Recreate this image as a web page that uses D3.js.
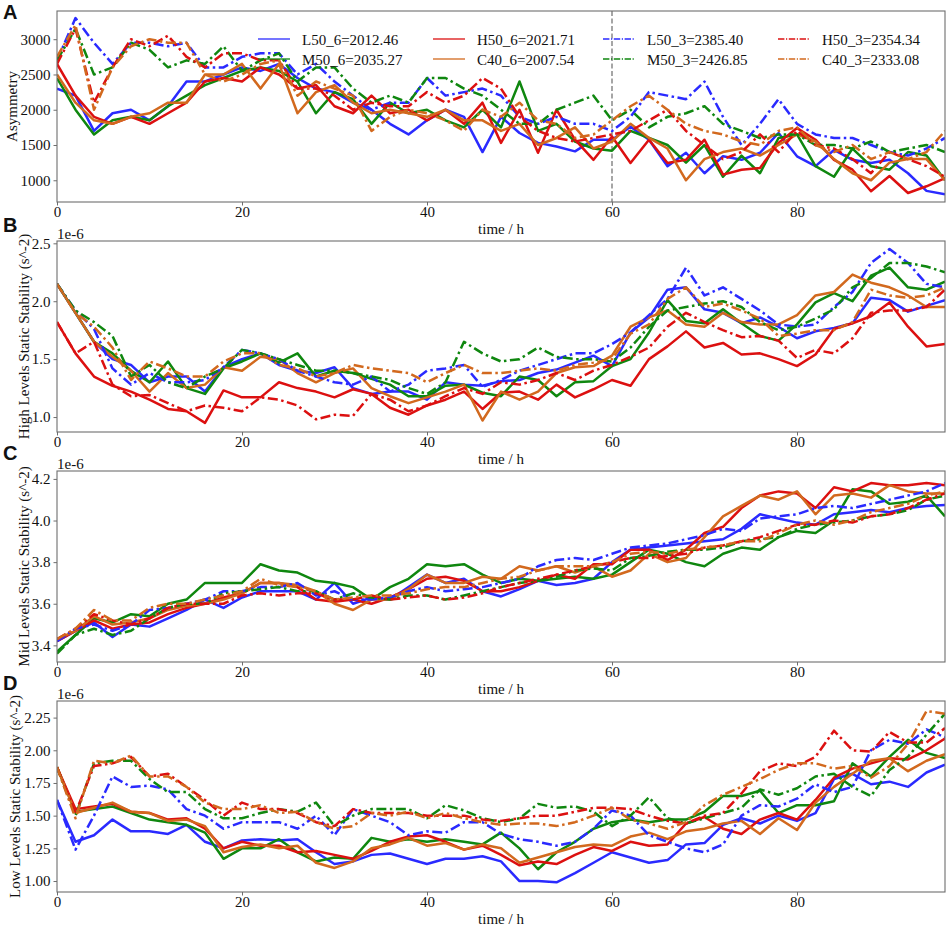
<!DOCTYPE html>
<html>
<head>
<meta charset="utf-8">
<script src="https://cdn.jsdelivr.net/npm/d3@7"></script>
<style>
  body { margin: 0; background: #fff; }
  svg text { font-family: "Liberation Serif", "Times New Roman", serif; }
</style>
</head>
<body>
<div id="chart"></div>
<script>
// sample times (hours), one value every 2 h
var hours = [0, 2, 4, 6, 8, 10, 12, 14, 16, 18, 20, 22, 24, 26, 28, 30, 32, 34, 36, 38,
  40, 42, 44, 46, 48, 50, 52, 54, 56, 58, 60, 62, 64, 66, 68, 70, 72, 74, 76, 78,
  80, 82, 84, 86, 88, 90, 92, 94, 96];

// plotting order = legend order (column-wise, 4 columns)
var seriesNames = ["L50_6", "M50_6", "H50_6", "C40_6", "L50_3", "M50_3", "H50_3", "C40_3"];
var legendValues = [2012.46, 2035.27, 2021.71, 2007.54, 2385.40, 2426.85, 2354.34, 2333.08];

var xTicks = [0, 20, 40, 60, 80];
var asymTicks = [1000, 1500, 2000, 2500, 3000];
var highTicks = [1.0, 1.5, 2.0, 2.5];
var midTicks = [3.4, 3.6, 3.8, 4.0, 4.2];
var lowTicks = [1.00, 1.25, 1.50, 1.75, 2.00, 2.25];

// ---- A: Asymmetry ----
var asym_L50_6 = [2300, 2200, 1700, 1950, 2000, 1850, 2050, 2400, 2400, 2500, 2600, 2550, 2650, 2450, 2300, 2250, 2100, 2000, 1800, 1650, 1850, 2000, 1900, 1400, 1900, 1670, 1530, 1480, 1410, 1575, 1575, 1760, 1575, 1200, 1390, 1100, 1340, 1290, 1390, 1670, 1340, 1200, 1430, 1290, 1245, 1290, 1100, 850, 800];
var asym_M50_6 = [2450, 2000, 1650, 1850, 1900, 1850, 2050, 2200, 2350, 2450, 2550, 2600, 2550, 2400, 1950, 2250, 2150, 1800, 2100, 1950, 2000, 1850, 1750, 2000, 1750, 2400, 1700, 1800, 1550, 1450, 1420, 1700, 1600, 1500, 1250, 1500, 1050, 1350, 1100, 1600, 1650, 1200, 1050, 1450, 1200, 1150, 1400, 1350, 1000];
var asym_H50_6 = [2650, 2200, 1900, 1800, 1900, 1800, 1950, 2100, 2400, 2450, 2400, 2600, 2500, 2300, 2350, 2050, 1950, 2200, 1950, 2000, 1850, 2000, 1800, 2100, 1530, 2000, 1390, 2000, 1575, 1290, 1620, 1245, 1575, 1245, 1290, 1575, 1080, 1150, 1175, 1530, 1740, 1575, 1290, 1150, 845, 1060, 820, 915, 1030];
var asym_C40_6 = [2500, 2100, 1850, 1800, 1900, 1950, 2100, 2100, 2500, 2500, 2650, 2300, 2650, 1950, 2250, 2350, 2100, 1950, 2000, 1950, 1900, 2000, 1850, 1850, 1700, 1800, 1500, 1600, 1750, 1450, 1550, 1800, 1600, 1450, 1000, 1300, 1400, 1450, 1350, 1500, 1650, 1550, 1300, 1100, 1000, 1250, 1300, 1300, 1000];
var asym_L50_3 = [2700, 3300, 2950, 2650, 2950, 2950, 2900, 2950, 2600, 2600, 2750, 2800, 2800, 2500, 2650, 2400, 2200, 2000, 2100, 2100, 2450, 2200, 2250, 2300, 2200, 1900, 1800, 1900, 1800, 1800, 1700, 1900, 2250, 2200, 2150, 2400, 1900, 1500, 1800, 2150, 1800, 1650, 1600, 1600, 1500, 1400, 1350, 1450, 1600];
var asym_M50_3 = [2700, 3150, 2500, 2600, 2950, 2850, 2600, 2700, 2650, 2900, 2550, 2700, 2800, 2400, 2600, 2600, 2300, 2100, 2200, 2100, 2450, 2450, 2300, 2200, 2000, 1800, 1800, 2000, 2100, 2200, 1850, 2000, 1750, 1900, 1950, 2050, 1800, 1700, 1600, 1650, 1650, 1500, 1500, 1450, 1550, 1400, 1450, 1500, 1400];
var asym_H50_3 = [2650, 3150, 2100, 2600, 3000, 2900, 3050, 2750, 2600, 2800, 2800, 2700, 2700, 2300, 2300, 2200, 2000, 2100, 2050, 2050, 2250, 2100, 2200, 2450, 2300, 1900, 1700, 1600, 1550, 1600, 1650, 1700, 1850, 2000, 1700, 1500, 1300, 1400, 1650, 1400, 1700, 1500, 1450, 1300, 1100, 1400, 1300, 1200, 1050];
var asym_C40_3 = [2750, 3200, 2000, 2600, 2900, 3000, 2950, 2950, 2500, 2400, 2500, 2650, 2700, 2200, 2400, 2300, 2200, 1700, 1900, 2000, 1950, 1850, 1700, 2000, 1900, 2100, 1850, 1800, 1600, 1650, 1850, 2050, 2200, 2000, 1800, 1700, 1650, 1550, 1500, 1700, 1750, 1500, 1400, 1500, 1300, 1400, 1300, 1400, 1700];

// ---- B: High levels static stability (x 1e-6) ----
var high_L50_6 = [2.15, 1.90, 1.65, 1.50, 1.45, 1.30, 1.35, 1.35, 1.22, 1.43, 1.50, 1.55, 1.45, 1.40, 1.38, 1.43, 1.25, 1.20, 1.22, 1.22, 1.15, 1.30, 1.28, 1.27, 1.31, 1.32, 1.38, 1.41, 1.47, 1.53, 1.44, 1.73, 1.86, 2.10, 2.12, 1.93, 1.90, 1.81, 1.86, 1.78, 1.68, 1.74, 1.77, 1.81, 2.03, 2.01, 1.91, 1.96, 2.01];
var high_M50_6 = [2.15, 1.90, 1.65, 1.55, 1.40, 1.30, 1.48, 1.25, 1.20, 1.42, 1.48, 1.55, 1.47, 1.55, 1.35, 1.40, 1.38, 1.33, 1.28, 1.18, 1.18, 1.27, 1.28, 1.21, 1.18, 1.35, 1.32, 1.18, 1.30, 1.31, 1.44, 1.50, 1.73, 2.01, 1.83, 1.81, 1.93, 1.81, 1.70, 1.66, 1.80, 1.99, 2.07, 2.00, 2.22, 2.29, 2.12, 2.10, 2.17];
var high_H50_6 = [1.82, 1.55, 1.35, 1.27, 1.22, 1.15, 1.07, 1.05, 0.95, 1.23, 1.17, 1.17, 1.30, 1.25, 1.22, 1.17, 1.24, 1.20, 1.08, 1.02, 1.10, 1.15, 1.22, 1.07, 1.21, 1.22, 1.15, 1.28, 1.17, 1.24, 1.32, 1.27, 1.50, 1.61, 1.74, 1.60, 1.64, 1.54, 1.55, 1.50, 1.44, 1.54, 1.76, 1.81, 1.87, 1.99, 1.78, 1.61, 1.63];
var high_C40_6 = [2.15, 1.90, 1.65, 1.52, 1.40, 1.22, 1.38, 1.25, 1.28, 1.43, 1.40, 1.52, 1.50, 1.38, 1.30, 1.38, 1.42, 1.25, 1.18, 1.12, 1.17, 1.22, 1.28, 0.97, 1.22, 1.15, 1.22, 1.38, 1.43, 1.44, 1.53, 1.78, 1.86, 1.92, 1.80, 1.78, 1.90, 1.82, 1.80, 1.80, 1.88, 2.05, 2.08, 2.23, 2.16, 2.12, 2.05, 1.95, 1.95];
var high_L50_3 = [2.15, 1.92, 1.76, 1.42, 1.28, 1.38, 1.30, 1.30, 1.32, 1.43, 1.58, 1.55, 1.50, 1.40, 1.35, 1.30, 1.28, 1.35, 1.22, 1.28, 1.40, 1.42, 1.45, 1.26, 1.32, 1.40, 1.45, 1.50, 1.55, 1.55, 1.63, 1.73, 1.88, 2.02, 2.29, 2.05, 2.12, 2.02, 1.92, 1.80, 1.78, 1.80, 1.95, 2.08, 2.33, 2.45, 2.33, 2.15, 2.12];
var high_M50_3 = [2.15, 1.92, 1.82, 1.70, 1.35, 1.45, 1.30, 1.25, 1.35, 1.42, 1.58, 1.55, 1.50, 1.45, 1.40, 1.40, 1.38, 1.35, 1.32, 1.25, 1.20, 1.30, 1.65, 1.55, 1.48, 1.50, 1.60, 1.52, 1.50, 1.50, 1.48, 1.60, 1.78, 1.92, 1.95, 1.98, 2.00, 1.95, 1.82, 1.75, 1.78, 1.85, 1.93, 2.12, 2.20, 2.33, 2.33, 2.30, 2.25];
var high_H50_3 = [1.82, 1.55, 1.65, 1.28, 1.18, 1.19, 1.12, 1.05, 1.10, 1.08, 1.05, 1.17, 1.15, 1.10, 0.98, 1.02, 1.01, 1.20, 1.15, 1.05, 1.10, 1.18, 1.25, 1.20, 1.30, 1.28, 1.32, 1.38, 1.32, 1.40, 1.45, 1.52, 1.60, 1.78, 1.90, 1.82, 1.75, 1.69, 1.70, 1.66, 1.51, 1.58, 1.55, 1.68, 1.90, 1.92, 1.92, 1.95, 2.10];
var high_C40_3 = [2.15, 1.90, 1.78, 1.60, 1.32, 1.48, 1.42, 1.35, 1.35, 1.48, 1.55, 1.55, 1.45, 1.42, 1.35, 1.38, 1.45, 1.42, 1.40, 1.38, 1.30, 1.38, 1.45, 1.38, 1.38, 1.40, 1.42, 1.40, 1.45, 1.47, 1.50, 1.72, 1.80, 2.02, 2.12, 1.95, 1.98, 1.92, 1.85, 1.70, 1.72, 1.75, 1.75, 1.82, 2.10, 2.05, 2.03, 2.05, 2.12];

// ---- C: Mid levels static stability (x 1e-6) ----
var mid_L50_6 = [3.42, 3.47, 3.51, 3.44, 3.50, 3.49, 3.53, 3.57, 3.62, 3.58, 3.63, 3.66, 3.66, 3.66, 3.62, 3.70, 3.60, 3.63, 3.62, 3.68, 3.74, 3.70, 3.72, 3.66, 3.635, 3.67, 3.71, 3.69, 3.70, 3.72, 3.80, 3.86, 3.87, 3.88, 3.89, 3.90, 3.91, 3.96, 4.03, 4.01, 3.99, 3.98, 4.03, 4.04, 4.05, 4.04, 4.06, 4.07, 4.075];
var mid_M50_6 = [3.37, 3.45, 3.53, 3.51, 3.55, 3.54, 3.60, 3.62, 3.70, 3.70, 3.70, 3.79, 3.76, 3.75, 3.71, 3.70, 3.68, 3.62, 3.68, 3.72, 3.79, 3.78, 3.79, 3.74, 3.70, 3.72, 3.71, 3.72, 3.73, 3.72, 3.74, 3.80, 3.86, 3.84, 3.80, 3.78, 3.84, 3.87, 3.86, 3.92, 3.95, 3.94, 4.00, 4.15, 4.14, 4.08, 4.09, 4.12, 4.02];
var mid_H50_6 = [3.42, 3.47, 3.52, 3.48, 3.50, 3.51, 3.55, 3.58, 3.60, 3.63, 3.65, 3.70, 3.70, 3.68, 3.62, 3.61, 3.62, 3.60, 3.63, 3.67, 3.72, 3.73, 3.71, 3.66, 3.66, 3.68, 3.71, 3.74, 3.72, 3.79, 3.79, 3.86, 3.86, 3.81, 3.86, 3.94, 3.97, 4.06, 4.12, 4.14, 4.13, 4.06, 4.16, 4.14, 4.18, 4.17, 4.17, 4.18, 4.17];
var mid_C40_6 = [3.43, 3.47, 3.54, 3.50, 3.51, 3.53, 3.57, 3.59, 3.60, 3.62, 3.65, 3.70, 3.70, 3.69, 3.66, 3.60, 3.57, 3.62, 3.62, 3.67, 3.74, 3.70, 3.70, 3.73, 3.72, 3.78, 3.76, 3.78, 3.75, 3.78, 3.73, 3.76, 3.84, 3.80, 3.82, 3.92, 4.02, 4.07, 4.12, 4.10, 4.14, 4.03, 4.12, 4.13, 4.11, 4.17, 4.14, 4.13, 4.13];
var mid_L50_3 = [3.42, 3.48, 3.50, 3.47, 3.50, 3.57, 3.58, 3.60, 3.62, 3.66, 3.66, 3.68, 3.68, 3.70, 3.64, 3.66, 3.62, 3.62, 3.63, 3.66, 3.68, 3.66, 3.67, 3.68, 3.70, 3.72, 3.78, 3.81, 3.82, 3.81, 3.84, 3.87, 3.88, 3.89, 3.91, 3.93, 3.96, 3.95, 4.01, 4.02, 4.03, 4.06, 4.07, 4.06, 4.08, 4.10, 4.12, 4.14, 4.18];
var mid_M50_3 = [3.36, 3.45, 3.48, 3.45, 3.47, 3.53, 3.58, 3.60, 3.60, 3.65, 3.66, 3.67, 3.68, 3.66, 3.66, 3.62, 3.65, 3.63, 3.62, 3.64, 3.64, 3.62, 3.64, 3.66, 3.68, 3.70, 3.71, 3.73, 3.76, 3.77, 3.76, 3.82, 3.83, 3.85, 3.86, 3.86, 3.87, 3.90, 3.91, 3.92, 3.96, 3.98, 3.99, 4.00, 4.02, 4.03, 4.05, 4.10, 4.12];
var mid_H50_3 = [3.43, 3.48, 3.55, 3.52, 3.50, 3.53, 3.58, 3.60, 3.60, 3.60, 3.64, 3.65, 3.64, 3.65, 3.65, 3.62, 3.62, 3.64, 3.62, 3.63, 3.64, 3.62, 3.63, 3.65, 3.68, 3.70, 3.72, 3.74, 3.76, 3.78, 3.80, 3.82, 3.82, 3.83, 3.84, 3.87, 3.88, 3.90, 3.92, 3.95, 3.98, 3.98, 4.00, 3.99, 4.02, 4.03, 4.06, 4.10, 4.13];
var mid_C40_3 = [3.43, 3.48, 3.57, 3.52, 3.52, 3.58, 3.60, 3.60, 3.62, 3.64, 3.66, 3.72, 3.69, 3.68, 3.66, 3.62, 3.63, 3.64, 3.64, 3.65, 3.67, 3.68, 3.68, 3.70, 3.72, 3.73, 3.76, 3.78, 3.78, 3.78, 3.80, 3.84, 3.85, 3.84, 3.86, 3.87, 3.88, 3.90, 3.90, 3.94, 3.98, 4.00, 3.98, 4.00, 4.04, 4.06, 4.08, 4.12, 4.14];

// ---- D: Low levels static stability (x 1e-6) ----
var low_L50_6 = [1.62, 1.30, 1.35, 1.47, 1.38, 1.38, 1.36, 1.43, 1.30, 1.25, 1.31, 1.32, 1.31, 1.32, 1.22, 1.13, 1.15, 1.20, 1.21, 1.17, 1.13, 1.17, 1.17, 1.19, 1.15, 1.00, 1.00, 0.99, 1.06, 1.14, 1.22, 1.18, 1.14, 1.16, 1.28, 1.29, 1.43, 1.48, 1.44, 1.50, 1.46, 1.52, 1.78, 1.82, 1.74, 1.76, 1.72, 1.83, 1.89];
var low_M50_6 = [1.87, 1.53, 1.55, 1.57, 1.52, 1.47, 1.45, 1.43, 1.37, 1.17, 1.25, 1.25, 1.32, 1.22, 1.15, 1.18, 1.17, 1.33, 1.30, 1.32, 1.30, 1.32, 1.30, 1.28, 1.37, 1.25, 1.09, 1.22, 1.30, 1.40, 1.45, 1.47, 1.45, 1.47, 1.47, 1.53, 1.65, 1.65, 1.69, 1.52, 1.58, 1.58, 1.61, 1.90, 1.80, 1.95, 2.08, 1.98, 1.94];
var low_H50_6 = [1.87, 1.55, 1.57, 1.59, 1.53, 1.52, 1.47, 1.48, 1.40, 1.25, 1.30, 1.27, 1.27, 1.22, 1.23, 1.20, 1.17, 1.23, 1.30, 1.34, 1.35, 1.30, 1.24, 1.27, 1.20, 1.12, 1.15, 1.13, 1.20, 1.26, 1.23, 1.30, 1.27, 1.28, 1.44, 1.49, 1.40, 1.36, 1.47, 1.52, 1.47, 1.62, 1.79, 1.86, 1.90, 1.94, 1.93, 2.00, 2.09];
var low_C40_6 = [1.87, 1.52, 1.56, 1.60, 1.53, 1.52, 1.46, 1.47, 1.42, 1.22, 1.26, 1.28, 1.25, 1.27, 1.14, 1.10, 1.15, 1.25, 1.28, 1.33, 1.27, 1.29, 1.24, 1.28, 1.25, 1.14, 1.18, 1.22, 1.26, 1.28, 1.27, 1.34, 1.37, 1.32, 1.38, 1.40, 1.44, 1.46, 1.36, 1.48, 1.39, 1.60, 1.72, 1.82, 1.92, 1.94, 1.84, 1.92, 1.97];
var low_L50_3 = [1.62, 1.24, 1.50, 1.80, 1.72, 1.73, 1.70, 1.55, 1.50, 1.40, 1.45, 1.45, 1.45, 1.40, 1.50, 1.35, 1.55, 1.50, 1.45, 1.35, 1.38, 1.37, 1.45, 1.45, 1.36, 1.32, 1.30, 1.27, 1.30, 1.40, 1.54, 1.50, 1.35, 1.30, 1.25, 1.22, 1.28, 1.50, 1.58, 1.57, 1.63, 1.74, 1.68, 1.72, 2.00, 2.08, 2.05, 2.16, 2.10];
var low_M50_3 = [1.87, 1.50, 1.90, 1.92, 1.92, 1.78, 1.68, 1.68, 1.55, 1.48, 1.48, 1.52, 1.55, 1.53, 1.60, 1.42, 1.50, 1.55, 1.55, 1.55, 1.48, 1.58, 1.54, 1.48, 1.45, 1.48, 1.59, 1.56, 1.57, 1.53, 1.42, 1.50, 1.64, 1.48, 1.44, 1.48, 1.52, 1.56, 1.70, 1.66, 1.71, 1.80, 1.82, 1.72, 1.65, 1.85, 1.95, 2.12, 2.28];
var low_H50_3 = [1.87, 1.52, 1.88, 1.90, 1.95, 1.80, 1.82, 1.72, 1.62, 1.50, 1.60, 1.55, 1.55, 1.52, 1.45, 1.42, 1.55, 1.52, 1.52, 1.52, 1.50, 1.50, 1.50, 1.47, 1.46, 1.48, 1.50, 1.50, 1.53, 1.56, 1.56, 1.55, 1.50, 1.46, 1.44, 1.50, 1.52, 1.67, 1.84, 1.90, 1.88, 1.95, 2.15, 2.00, 1.99, 2.14, 2.06, 2.06, 2.17];
var low_C40_3 = [1.87, 1.48, 1.92, 1.90, 1.96, 1.80, 1.80, 1.72, 1.60, 1.55, 1.55, 1.58, 1.52, 1.53, 1.45, 1.40, 1.42, 1.52, 1.50, 1.53, 1.48, 1.52, 1.48, 1.45, 1.43, 1.44, 1.44, 1.42, 1.45, 1.50, 1.56, 1.47, 1.44, 1.40, 1.45, 1.58, 1.66, 1.72, 1.78, 1.85, 1.90, 1.90, 1.86, 1.88, 1.79, 1.88, 2.05, 2.30, 2.28];

// styles
var colors = { L50: "#2a2aff", M50: "#0f870f", H50: "#dc1010", C40: "#d2691e" };
function lineColor(name) { return colors[name.slice(0, 3)]; }
function isDashDot(name) { return name.slice(-1) === "3"; }

var panels = [
  { letter: "A", label: "Asymmetry", domain: [692, 3400], ticks: asymTicks, fmt: d3.format("d"), offset: null, labelX: 17,
    series: [asym_L50_6, asym_M50_6, asym_H50_6, asym_C40_6, asym_L50_3, asym_M50_3, asym_H50_3, asym_C40_3] },
  { letter: "B", label: "High Levels Static Stability (s^-2)", domain: [0.871, 2.52], ticks: highTicks, fmt: d3.format(".1f"), offset: "1e-6", labelX: 29,
    series: [high_L50_6, high_M50_6, high_H50_6, high_C40_6, high_L50_3, high_M50_3, high_H50_3, high_C40_3] },
  { letter: "C", label: "Mid Levels Static Stability (s^-2)", domain: [3.32, 4.238], ticks: midTicks, fmt: d3.format(".1f"), offset: "1e-6", labelX: 29,
    series: [mid_L50_6, mid_M50_6, mid_H50_6, mid_C40_6, mid_L50_3, mid_M50_3, mid_H50_3, mid_C40_3] },
  { letter: "D", label: "Low Levels Static Stability (s^-2)", domain: [0.916, 2.377], ticks: lowTicks, fmt: d3.format(".2f"), offset: "1e-6", labelX: 20,
    series: [low_L50_6, low_M50_6, low_H50_6, low_C40_6, low_L50_3, low_M50_3, low_H50_3, low_C40_3] }
];

var W = 948, H = 928;
var plotLeft = 57, plotRight = 945, plotH = 191, firstTop = 11, step = 230;
var axisColor = "#6e6e6e";

var svg = d3.select("#chart").append("svg")
  .attr("width", W)
  .attr("height", H);

var x = d3.scaleLinear().domain([0, 96]).range([plotLeft, plotRight]);

panels.forEach(function (p, i) {
  var top = firstTop + i * step;
  var bottom = top + plotH;
  var y = d3.scaleLinear().domain(p.domain).range([bottom, top]);
  var g = svg.append("g").attr("class", "panel panel-" + p.letter);

  // clip region for the lines
  svg.append("clipPath").attr("id", "clip" + i)
    .append("rect")
    .attr("x", plotLeft).attr("y", top)
    .attr("width", plotRight - plotLeft).attr("height", plotH);

  // axes
  var xAxis = d3.axisBottom(x).tickValues(xTicks).tickFormat(d3.format("d")).tickSize(3.5).tickPadding(0.5);
  var yAxis = d3.axisLeft(y).tickValues(p.ticks).tickFormat(p.fmt).tickSize(3.5).tickPadding(3);

  var gx = g.append("g").attr("transform", "translate(0," + bottom + ")").call(xAxis);
  var gy = g.append("g").attr("transform", "translate(" + plotLeft + ",0)").call(yAxis);
  [gx, gy].forEach(function (ax) {
    ax.select(".domain").remove();
    ax.attr("font-size", 15).attr("font-family", "Liberation Serif, Times New Roman, serif");
    ax.selectAll(".tick line").attr("stroke", axisColor).attr("stroke-width", 1);
    ax.selectAll(".tick text").attr("fill", "#111");
  });

  // x label
  g.append("text")
    .attr("x", (plotLeft + plotRight) / 2)
    .attr("y", bottom + 32)
    .attr("text-anchor", "middle")
    .attr("font-size", 15)
    .attr("fill", "#111")
    .text("time / h");

  // y label
  g.append("text")
    .attr("transform", "translate(" + p.labelX + "," + (top + plotH / 2) + ") rotate(-90)")
    .attr("text-anchor", "middle")
    .attr("font-size", 15)
    .attr("fill", "#111")
    .text(p.label);

  // offset text (scientific multiplier)
  if (p.offset) {
    g.append("text")
      .attr("x", plotLeft)
      .attr("y", top - 2.5)
      .attr("font-size", 15)
      .attr("fill", "#111")
      .text(p.offset);
  }

  // panel letter
  g.append("text")
    .attr("x", 3)
    .attr("y", top + (i === 0 ? 8 : -9 + (i === 2 ? -2 : 0) + (i === 3 ? -2 : 0)))
    .attr("font-size", 20)
    .attr("font-weight", "bold")
    .style("font-family", "Liberation Sans, Arial, sans-serif")
    .attr("fill", "#111")
    .text(p.letter);

  // vertical dashed marker at 60 h (panel A only)
  if (i === 0) {
    g.append("line")
      .attr("x1", x(60)).attr("x2", x(60))
      .attr("y1", top).attr("y2", bottom)
      .attr("stroke", "#777")
      .attr("stroke-width", 1.3)
      .attr("stroke-dasharray", "5,2.5");
  }

  // lines
  var line = d3.line()
    .x(function (d, j) { return x(hours[j]); })
    .y(function (d) { return y(d); });

  var lines = g.append("g").attr("clip-path", "url(#clip" + i + ")");
  p.series.forEach(function (values, k) {
    var name = seriesNames[k];
    lines.append("path")
      .datum(values)
      .attr("fill", "none")
      .attr("stroke", lineColor(name))
      .attr("stroke-width", 2.5)
      .attr("stroke-linejoin", "round")
      .attr("stroke-dasharray", isDashDot(name) ? "10,3.5,2.5,3.5" : null)
      .attr("d", line);
  });

  // frame
  g.append("rect")
    .attr("x", plotLeft).attr("y", top)
    .attr("width", plotRight - plotLeft).attr("height", plotH)
    .attr("fill", "none")
    .attr("stroke", axisColor)
    .attr("stroke-width", 1.1);

  // legend (panel A only), 4 columns x 2 rows, filled column-wise
  if (i === 0) {
    var handleX = [258, 433, 603, 778];
    var rowY = [39, 59];
    var legend = g.append("g").attr("class", "legend");
    seriesNames.forEach(function (name, k) {
      var col = Math.floor(k / 2), row = k % 2;
      legend.append("line")
        .attr("x1", handleX[col]).attr("x2", handleX[col] + 32)
        .attr("y1", rowY[row]).attr("y2", rowY[row])
        .attr("stroke", lineColor(name))
        .attr("stroke-width", 1.3)
        .attr("stroke-dasharray", isDashDot(name) ? "6.4,1.6,1.2,1.6" : null);
      legend.append("text")
        .attr("x", handleX[col] + 44)
        .attr("y", rowY[row] + 5.5)
        .attr("font-size", 15)
        .attr("fill", "#111")
        .text(name + "=" + legendValues[k].toFixed(2));
    });
  }
});
</script>
</body>
</html>
